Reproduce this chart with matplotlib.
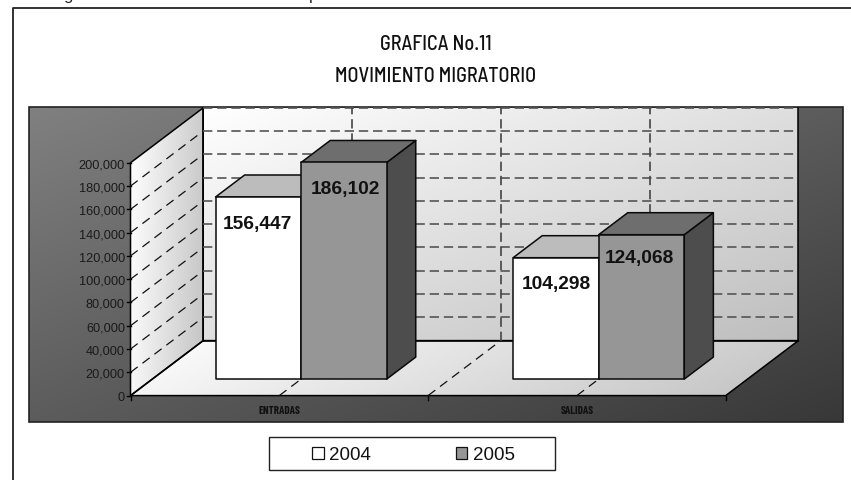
import numpy as np
import matplotlib
matplotlib.use("Agg")
import matplotlib.pyplot as plt
from matplotlib.patches import Polygon, Rectangle
from matplotlib.colors import LinearSegmentedColormap

categories = ["ENTRADAS", "SALIDAS"]
series_names = ["2004", "2005"]
values_2004 = [156447, 104298]
values_2005 = [186102, 124068]
y_ticks = [0, 20000, 40000, 60000, 80000, 100000, 120000, 140000, 160000, 180000, 200000]
title_lines = ["GRAFICA No.11", "MOVIMIENTO MIGRATORIO"]
COND = ["Barlow Condensed", "Liberation Sans"]
SEMI = ["Barlow Semi Condensed", "Liberation Sans"]

W, H = 851, 481
fig = plt.figure(figsize=(W / 100, H / 100), dpi=100)
ax = fig.add_axes([0, 0, 1, 1])
ax.set_xlim(0, W)
ax.set_ylim(H, 0)
ax.axis("off")

# 3D scale: cat in category units, val in data units, depth 0..1
X0, X1 = 130.5, 725.7
Y0, YSPAN = 396.6, 232.8
DX, DY = 72.7, -55.0
YMAX = 200000


def proj(cat, val, depth=0.0):
    cw = (X1 - X0) / len(categories)
    return (X0 + cat * cw + depth * DX, Y0 - val / YMAX * YSPAN + depth * DY)


def gradient(poly, c0, c1, ang=(1, 1), z=1, edge=True):
    xs, ys = zip(*poly)
    x0, x1, y0, y1 = min(xs), max(xs), min(ys), max(ys)
    gx, gy = np.meshgrid(np.linspace(0, 1, 200), np.linspace(0, 1, 200))
    g = (gx * ang[0] + gy * ang[1]) / (ang[0] + ang[1])
    cm = LinearSegmentedColormap.from_list("g", [c0, c1])
    im = ax.imshow(g, extent=(x0, x1, y1, y0), cmap=cm, vmin=0, vmax=1,
                   aspect="auto", zorder=z, interpolation="bilinear")
    p = Polygon(poly, closed=True, transform=ax.transData)
    im.set_clip_path(p)
    if edge:
        ax.add_patch(Polygon(poly, closed=True, fill=False, ec="black", lw=1.1, zorder=z + 0.1))


# clipped line of text above the frame
ax.text(63, 0, "g", ha="left", va="baseline", fontsize=12, family="Liberation Sans", color="#222222")
ax.text(309, 0, "p", ha="left", va="baseline", fontsize=12, family="Liberation Sans", color="#222222")

# outer frame
ax.plot([13, 13, W], [H, 9.3, 9.3], color="#222222", lw=1.3, zorder=1, solid_capstyle="butt")

# panel
panel = [(28.5, 108), (843, 108), (843, 423), (28.5, 423)]
gradient(panel, "#808080", "#383838", z=1, edge=False)
ax.add_patch(Polygon(panel, closed=True, fill=False, ec="#222222", lw=1.2, zorder=1.2))

# walls
back = [proj(0, 0, 1), proj(2, 0, 1), proj(2, YMAX, 1), proj(0, YMAX, 1)]
left = [proj(0, 0, 0), proj(0, 0, 1), proj(0, YMAX, 1), proj(0, YMAX, 0)]
floor = [proj(0, 0, 0), proj(2, 0, 0), proj(2, 0, 1), proj(0, 0, 1)]
gradient(back, "#ffffff", "#bebebe", z=2, edge=False)
for i, j in [(0, 1), (1, 2), (3, 0)]:
    ax.plot([back[i][0], back[j][0]], [back[i][1], back[j][1]], color="black", lw=1.1, zorder=2.1)
gradient(left, "#ffffff", "#c4c4c4", ang=(1, 0.15), z=2)
gradient(floor, "#ffffff", "#c2c2c2", ang=(1, 0.2), z=2)

wall_dash = (0, (5.6, 2.9))
side_dash = (0, (7.2, 4.8))
for v in y_ticks[1:]:
    a, b = proj(0, v, 1), proj(2, v, 1)
    ax.plot([a[0], b[0]], [a[1], b[1]], color="#555555", lw=1.2, ls=wall_dash, zorder=3)
for v in y_ticks[1:-1]:
    a, b = proj(0, v, 0), proj(0, v, 0.92)
    ax.plot([a[0], b[0]], [a[1], b[1]], color="#111111", lw=0.9, ls=side_dash, zorder=3)
for c in [0.5, 1.0, 1.5]:
    a, b, d = proj(c, 0, 0), proj(c, 0, 1), proj(c, YMAX, 1)
    ax.plot([a[0], b[0]], [a[1], b[1]], color="#111111", lw=0.9, ls=side_dash, zorder=3)
    ax.plot([b[0], d[0]], [b[1], d[1]], color="#444444", lw=1.2, ls=wall_dash, zorder=3)

# axes ticks
for v in y_ticks:
    a = proj(0, v)
    ax.plot([a[0] - 4, a[0]], [a[1], a[1]], color="black", lw=1, zorder=4)
    ax.text(a[0] - 5.5, a[1], f"{v:,}", ha="right", va="center_baseline", fontsize=9.2,
            family="Liberation Sans", color="#1a1a1a", zorder=5)
for c in range(len(categories) + 1):
    a = proj(c, 0)
    ax.plot([a[0], a[0]], [a[1], a[1] + 4], color="black", lw=1, zorder=4)
for i, name in enumerate(categories):
    a = proj(i + 0.5, 0)
    ax.text(a[0], 411.5, name, ha="center", va="center", fontsize=8, fontweight="bold",
            family=COND, color="#111111", zorder=5)

# bars
BW = 0.2875  # bar width in category units
D0, D1 = 0.30, 0.70


def bar(cat, offs, val, fc, tc, sc, tz):
    l, r = cat + offs, cat + offs + BW
    front = [proj(l, 0, D0), proj(r, 0, D0), proj(r, val, D0), proj(l, val, D0)]
    top = [proj(l, val, D0), proj(r, val, D0), proj(r, val, D1), proj(l, val, D1)]
    side = [proj(r, 0, D0), proj(r, 0, D1), proj(r, val, D1), proj(r, val, D0)]
    for poly, col in ((side, sc), (top, tc), (front, fc)):
        ax.add_patch(Polygon(poly, closed=True, fc=col, ec="#0a0a0a", lw=1.1, zorder=tz, joinstyle="round"))
    return (front[3][0] + front[2][0]) / 2, front[3][1]


styles = [("#ffffff", "#bcbcbc", "#8a8a8a"), ("#969696", "#6e6e6e", "#4d4d4d")]
label_drop = [[24.4, 23.7], [23.7, 20.5]]
label_shift = [[-0.5, 1.5], [0.5, -2.0]]
for c in range(len(categories)):
    for s, vals in enumerate([values_2004, values_2005]):
        xc, yt = bar(c + 0.5, (s - 1) * BW, vals[c], *styles[s], 6 + s)
        ax.text(xc + label_shift[c][s], yt + label_drop[c][s], f"{vals[c]:,}", ha="center",
                va="center_baseline", fontsize=13.8, fontweight="bold",
                family="Liberation Sans", color="#111111", zorder=9)

# title
for line, y in zip(title_lines, [44.5, 76.5]):
    ax.text(436, y, line, ha="center", va="center", fontsize=14.5, fontweight="medium",
            family=SEMI, color="#111111", zorder=5)

# legend
ax.add_patch(Rectangle((269, 437.5), 285.5, 33, fc="white", ec="#222222", lw=1, zorder=5))
for (sx, tx), name, col in zip([(312, 329), (455.7, 472.7)], series_names, ["#ffffff", "#969696"]):
    ax.add_patch(Rectangle((sx, 448), 11.5, 11.5, fc=col, ec="#111111", lw=0.9, zorder=6))
    ax.text(tx, 453.5, name, ha="left", va="center_baseline", fontsize=13.5,
            family="Liberation Sans", color="#111111", zorder=6)

fig.savefig("out.png", dpi=100)
